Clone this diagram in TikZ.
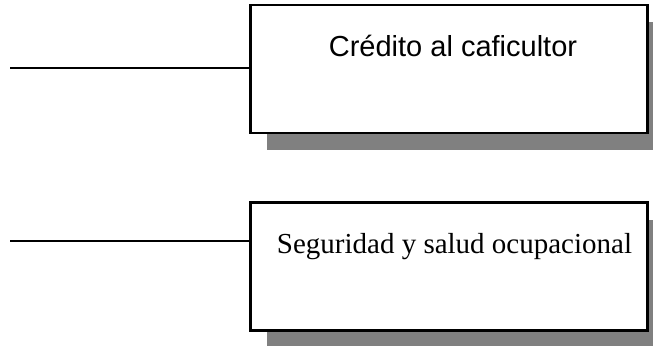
\documentclass[tikz,border=0pt]{standalone}
\usepackage{fontspec}
\setmainfont{Liberation Serif}
\newfontfamily\arialf{Liberation Sans}
\begin{document}
\begin{tikzpicture}[x=1pt,y=-1pt,
  boxst/.style={draw=black,line width=2.2pt,fill=white,rectangle,minimum width=397pt,minimum height=128pt,inner sep=0pt,outer sep=0pt},
  shadowst/.style={fill=black!50,draw=none},
  linkst/.style={draw=black,line width=2pt},
  labst/.style={anchor=base,inner sep=0pt,font=\fontsize{29}{34}\selectfont}]
\useasboundingbox (0,0) rectangle (653,346);
% shadows
\fill[shadowst] (267,22) rectangle (653,150);
\fill[shadowst] (267,220) rectangle (653,346);
% boxes
\node[boxst] (b1) at (449,69) {};
\node[boxst] (b2) at (449,266.5) {};
\node[labst,font=\arialf\fontsize{29}{34}\selectfont] (t1) at (453,56) {Crédito al caficultor};
\node[labst] (t2) at (454.5,253) {Seguridad y salud ocupacional};
% connectors
\coordinate (l1) at (10,67.5);
\coordinate (l2) at (10,240.5);
\draw[linkst] (l1) -- (b1.west |- l1);
\draw[linkst] (l2) -- (b2.west |- l2);
\end{tikzpicture}
\end{document}
